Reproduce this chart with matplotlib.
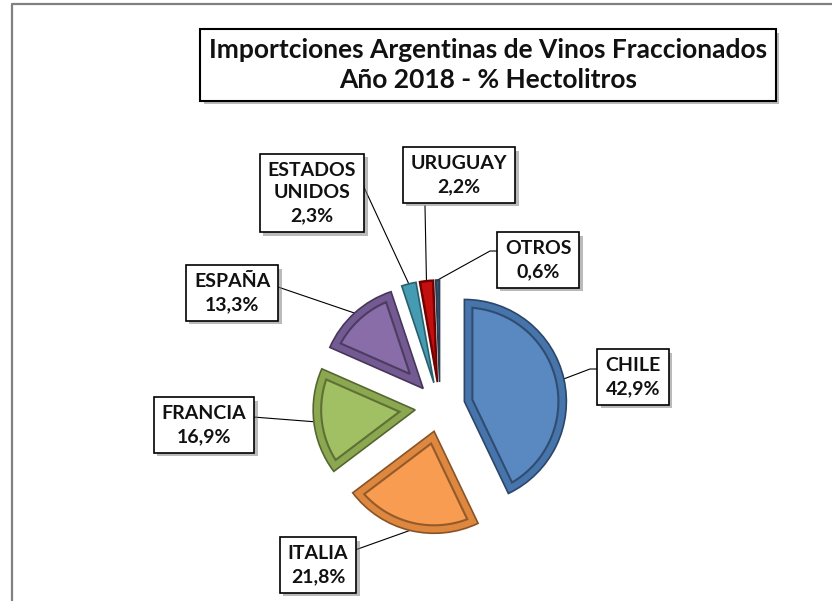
import numpy as np
import matplotlib.pyplot as plt
from matplotlib.patches import Polygon
from matplotlib import patheffects as pe
from matplotlib.colors import to_rgb

# Datos
paises = ["CHILE", "ITALIA", "FRANCIA", "ESPAÑA", "ESTADOS\nUNIDOS", "URUGUAY", "OTROS"]
porcentajes = [42.9, 21.8, 16.9, 13.3, 2.3, 2.2, 0.6]
colores = ["#4F81BD", "#F79646", "#9BBB59", "#8064A2", "#4BACC6", "#C00000", "#4A6E96"]
titulo = "Importciones Argentinas de Vinos Fraccionados\nAño 2018 - % Hectolitros"

W, H = 832, 601
FONT = "Lato"

# posiciones de las etiquetas (coordenadas de imagen) y punto de arranque de la guia
label_pos = {
    "CHILE": (633, 377),
    "ITALIA": (318, 565),
    "FRANCIA": (204, 425),
    "ESPAÑA": (232, 293),
    "ESTADOS\nUNIDOS": (312, 193),
    "URUGUAY": (459, 175),
    "OTROS": (538, 260),
}
line_start = {
    "CHILE": [(598, 369), (590, 369)],
    "ITALIA": [(355, 550)],
    "FRANCIA": [(253, 417)],
    "ESPAÑA": [(278, 287)],
    "ESTADOS\nUNIDOS": [(362, 183)],
    "URUGUAY": [(425, 206)],
    "OTROS": [(498, 251), (490, 251)],
}


def shade(c, f):
    r, g, b = to_rgb(c)
    if f <= 1:
        return (r * f, g * f, b * f)
    f = f - 1
    return (r + (1 - r) * f, g + (1 - g) * f, b + (1 - b) * f)


fig = plt.figure(figsize=(W / 100, H / 100), dpi=100)
ax = fig.add_axes([0, 0, 1, 1])

cx, cy = 440, H - 407
R = 102
wedges, _ = ax.pie(porcentajes, colors=colores, startangle=90, counterclock=False,
                   radius=R, center=(cx, cy), explode=[25] * len(porcentajes),
                   wedgeprops=dict(linewidth=1.2))

# efecto biselado: poligono interior desplazado hacia dentro
for w, col in zip(wedges, colores):
    w.set_facecolor(shade(col, 0.9))
    w.set_edgecolor(shade(col, 0.55))
    t1, t2 = np.deg2rad(w.theta1), np.deg2rad(w.theta2)
    half = (t2 - t1) / 2
    mid = (t1 + t2) / 2
    inset = 8 if half > np.deg2rad(4) else 1.2
    s = inset / np.sin(half)
    ri = w.r - inset
    d = np.arcsin(inset / ri)
    if t2 - d <= t1 + d or s > ri:
        continue
    c0 = np.array(w.center)
    phi = np.linspace(t1 + d, t2 - d, 60)
    arc = c0 + ri * np.column_stack([np.cos(phi), np.sin(phi)])
    apex = c0 + s * np.array([np.cos(mid), np.sin(mid)])
    inner = Polygon(np.vstack([apex, arc]), closed=True, facecolor=shade(col, 1.06),
                    edgecolor=shade(col, 0.6), linewidth=1.5 if inset > 2 else 0.6)
    ax.add_patch(inner)

ax.set_xlim(0, W)
ax.set_ylim(0, H)
ax.axis("off")

# marco del grafico
ax.plot([12, 12, W], [0, H - 4, H - 4], color="#808080", lw=1.6, solid_capstyle="butt")

shadow = [pe.SimplePatchShadow(offset=(2.5, -2.5), shadow_rgbFace="#777777", alpha=0.5), pe.Normal()]

# titulo
t = ax.text(488, H - 65, titulo, ha="center", va="center", fontsize=19, fontweight="bold",
            family=FONT, linespacing=1.35, color="#111111",
            bbox=dict(boxstyle="square,pad=0.32", fc="white", ec="black", lw=1.5))
t.get_bbox_patch().set_path_effects(shadow)

# etiquetas y lineas guia
for w, pais, pct in zip(wedges, paises, porcentajes):
    mid = np.deg2rad(w.theta1 + w.theta2) / 2
    end = (w.center[0] + w.r * np.cos(mid), w.center[1] + w.r * np.sin(mid))
    pts = [(x, H - y) for x, y in line_start[pais]] + [end]
    xs, ys = zip(*pts)
    ax.plot(xs, ys, color="black", lw=0.8, zorder=0.5)

    x, y = label_pos[pais]
    txt = f"{pais}\n{pct:.1f}%".replace(".", ",")
    lab = ax.text(x, H - y, txt, ha="center", va="center", fontsize=14, fontweight="bold",
                  family=FONT, linespacing=1.4, zorder=4, color="#111111",
                  bbox=dict(boxstyle="square,pad=0.42", fc="white", ec="black", lw=1.2))
    lab.get_bbox_patch().set_path_effects(shadow)

plt.savefig("out.png", dpi=100, facecolor="white")
